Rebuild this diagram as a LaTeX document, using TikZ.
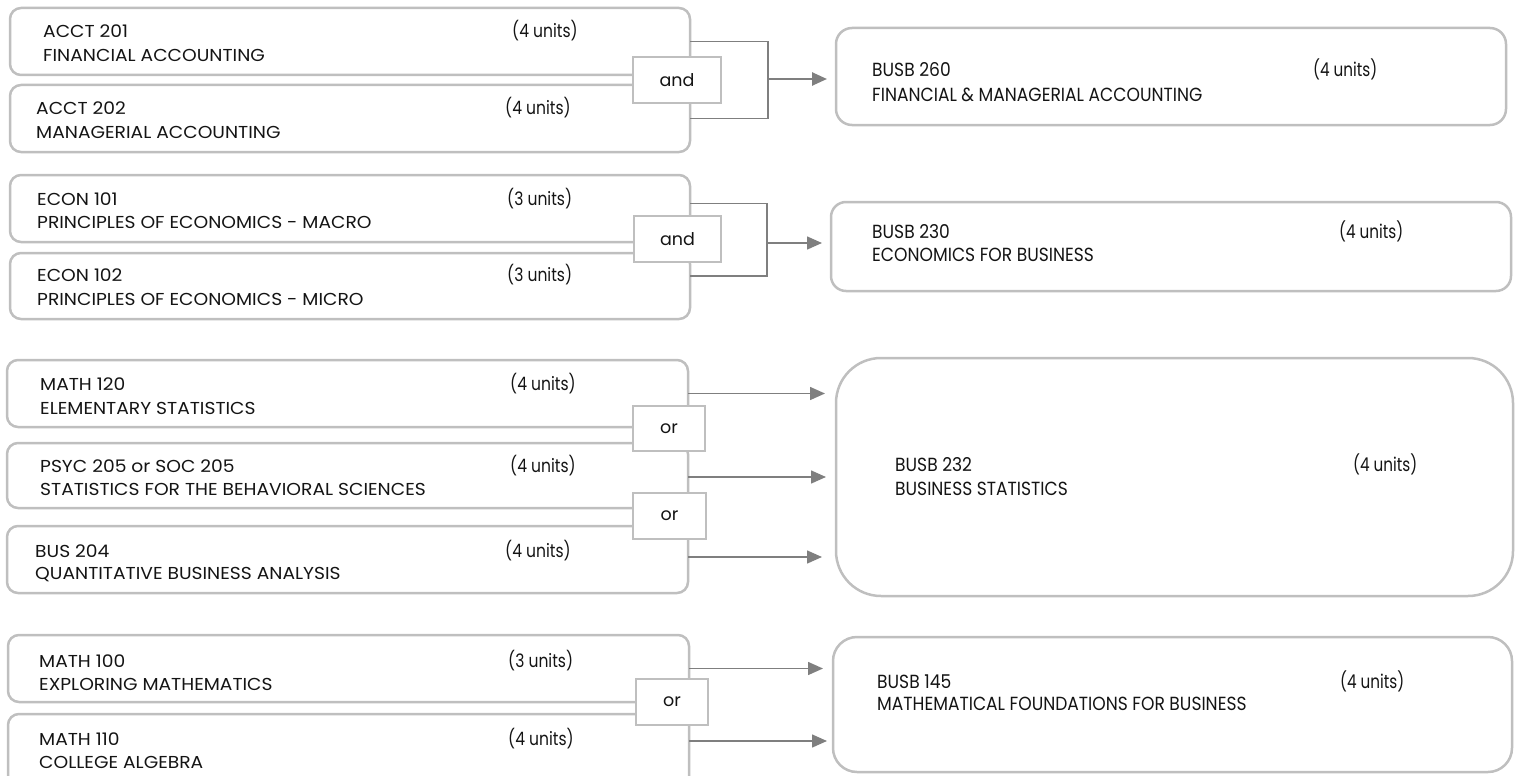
\documentclass[tikz,border=0pt]{standalone}
\usepackage{fontspec}
\setmainfont{Poppins}
\newfontfamily\lfont{Poppins}[FakeStretch=1.08]
\newfontfamily\ufont{Poppins}[FakeStretch=0.84]
\newfontfamily\rfont{Poppins}[FakeStretch=0.9]
\newfontfamily\rufont{Poppins}[FakeStretch=0.8]
\usetikzlibrary{arrows.meta,fit}
\definecolor{boxgray}{HTML}{BFBFBF}
\definecolor{linegray}{HTML}{7F7F7F}
\definecolor{txtcol}{HTML}{141414}
\tikzset{
  lbox/.style={draw=boxgray, line width=2.5pt, rounded corners=11pt, inner sep=0pt, outer sep=0pt},
  rbox/.style={lbox, line width=2.5pt},
  gate/.style={draw=boxgray, line width=2.5pt, fill=white, inner sep=0pt, outer sep=0pt},
  gatetxt/.style={inner sep=0pt, font=\fontsize{17.5}{20}\selectfont, text=txtcol},
  ltxt/.style={anchor=base west, inner sep=0pt, font=\lfont\fontsize{17.3}{20}\selectfont, text=txtcol},
  utxt/.style={anchor=base west, inner sep=0pt, font=\ufont\fontsize{18.5}{20}\selectfont, text=txtcol},
  rtxt/.style={anchor=base west, inner sep=0pt, font=\rfont\fontsize{19}{22}\selectfont, text=txtcol},
  rutxt/.style={anchor=base west, inner sep=0pt, font=\rufont\fontsize{19}{22}\selectfont, text=txtcol},
  conn/.style={draw=linegray, line width=1.5pt},
  arr/.style={conn, -{Triangle[length=15pt,width=13pt]}, shorten >=9pt},
}
\begin{document}
\begin{tikzpicture}[x=1pt,y=-1pt]
\useasboundingbox (0,0) rectangle (1521,776);
% ---------- left boxes ----------
\node[lbox, fit={(10,8) (690,75)}] (a1) {};
\node[lbox, fit={(10,85) (690,152)}] (a2) {};
\node[lbox, fit={(10,175) (690,242)}] (e1) {};
\node[lbox, fit={(10,253) (690,319)}] (e2) {};
\node[lbox, fit={(7,360) (688,427)}] (s1) {};
\node[lbox, fit={(7,443) (688,508)}] (s2) {};
\node[lbox, fit={(7,526) (688,593)}] (s3) {};
\node[lbox, fit={(8,635) (689,702)}] (m1) {};
\node[lbox, fit={(8,714) (689,800)}] (m2) {};
% ---------- right boxes ----------
\node[rbox, rounded corners=16pt, fit={(836,28) (1506,125)}] (t1) {};
\node[rbox, rounded corners=15pt, fit={(831,202) (1511,291)}] (t2) {};
\node[rbox, rounded corners=45pt, fit={(836,358) (1513,596)}] (t3) {};
\node[rbox, rounded corners=24pt, fit={(833,637) (1512,772)}] (t4) {};
% ---------- left texts ----------
\node[ltxt] (a1c) at (43,38) {ACCT 201};
\node[ltxt] (a1t) at (43,62) {FINANCIAL ACCOUNTING};
\node[utxt] (a1u) at (512,38) {(4 units)};
\node[ltxt] (a2c) at (36,114) {ACCT 202};
\node[ltxt] (a2t) at (36,138) {MANAGERIAL ACCOUNTING};
\node[utxt] (a2u) at (505,114) {(4 units)};
\node[ltxt] (e1c) at (37,205) {ECON 101};
\node[ltxt] (e1t) at (37,228) {PRINCIPLES OF ECONOMICS - MACRO};
\node[utxt] (e1u) at (507,205) {(3 units)};
\node[ltxt] (e2c) at (37,281) {ECON 102};
\node[ltxt] (e2t) at (37,305) {PRINCIPLES OF ECONOMICS - MICRO};
\node[utxt] (e2u) at (507,281) {(3 units)};
\node[ltxt] (s1c) at (40,390) {MATH 120};
\node[ltxt] (s1t) at (40,414) {ELEMENTARY STATISTICS};
\node[utxt] (s1u) at (510,390) {(4 units)};
\node[ltxt] (s2c) at (40,472) {PSYC 205 or SOC 205};
\node[ltxt] (s2t) at (40,495) {STATISTICS FOR THE BEHAVIORAL SCIENCES};
\node[utxt] (s2u) at (510,472) {(4 units)};
\node[ltxt] (s3c) at (35,557) {BUS 204};
\node[ltxt] (s3t) at (35,579) {QUANTITATIVE BUSINESS ANALYSIS};
\node[utxt] (s3u) at (505,557) {(4 units)};
\node[ltxt] (m1c) at (39,667) {MATH 100};
\node[ltxt] (m1t) at (39,690) {EXPLORING MATHEMATICS};
\node[utxt] (m1u) at (508,667) {(3 units)};
\node[ltxt] (m2c) at (39,745) {MATH 110};
\node[ltxt] (m2t) at (39,768) {COLLEGE ALGEBRA};
\node[utxt] (m2u) at (508,745) {(4 units)};
% ---------- right texts ----------
\node[rtxt] (t1c) at (872,77) {BUSB 260};
\node[rtxt] (t1t) at (872,101) {FINANCIAL \& MANAGERIAL ACCOUNTING};
\node[rutxt] (t1u) at (1313,77) {(4 units)};
\node[rtxt] (t2c) at (872,238) {BUSB 230};
\node[rtxt] (t2t) at (872,261) {ECONOMICS FOR BUSINESS};
\node[rutxt] (t2u) at (1339,238) {(4 units)};
\node[rtxt] (t3c) at (895,471) {BUSB 232};
\node[rtxt] (t3t) at (895,495) {BUSINESS STATISTICS};
\node[rutxt] (t3u) at (1353,471) {(4 units)};
\node[rtxt] (t4c) at (877,688) {BUSB 145};
\node[rtxt] (t4t) at (877,710) {MATHEMATICAL FOUNDATIONS FOR BUSINESS};
\node[rutxt] (t4u) at (1340,688) {(4 units)};
% ---------- connectors ----------
\coordinate (j1) at (768,79);
\coordinate (j2) at (767,243);
\draw[conn] (a1.east) -| (j1) |- (a2.east);
\draw[arr, line width=2.5pt] (j1) -- (t1.west |- j1);
\draw[conn] ([yshift=5pt]e1.east) -| (j2) |- ([yshift=10pt]e2.east);
\draw[arr] (j2) -- (t2.west |- j2);
\draw[arr, shorten >=11pt] (s1.east) -- (s1.east -| t3.west);
\draw[arr, shorten >=10pt] ([yshift=-1.5pt]s2.east) -- ([yshift=-1.5pt]s2.east -| t3.west);
\draw[arr, shorten >=14pt] ([yshift=2.5pt]s3.east) -- ([yshift=2.5pt]s3.east -| t3.west);
\draw[arr, shorten >=10pt] (m1.east) -- (m1.east -| t4.west);
\draw[arr, shorten >=6pt] ([yshift=-27pt]m2.north east) -- ([yshift=-27pt]m2.north east -| t4.west);
% ---------- gates ----------
\node[gate, fit={(633,57) (721,103)}] (g1) {};
\node[gatetxt] (g1l) at (g1.center) {and};
\node[gate, fit={(634,216) (721,262)}] (g2) {};
\node[gatetxt] (g2l) at (g2.center) {and};
\node[gate, fit={(633,406) (705,451)}] (g3) {};
\node[gatetxt] (g3l) at (g3.center) {or};
\node[gate, fit={(633,493) (706,539)}] (g4) {};
\node[gatetxt] (g4l) at (g4.center) {or};
\node[gate, fit={(636,679) (708,725)}] (g5) {};
\node[gatetxt] (g5l) at (g5.center) {or};
\end{tikzpicture}
\end{document}
